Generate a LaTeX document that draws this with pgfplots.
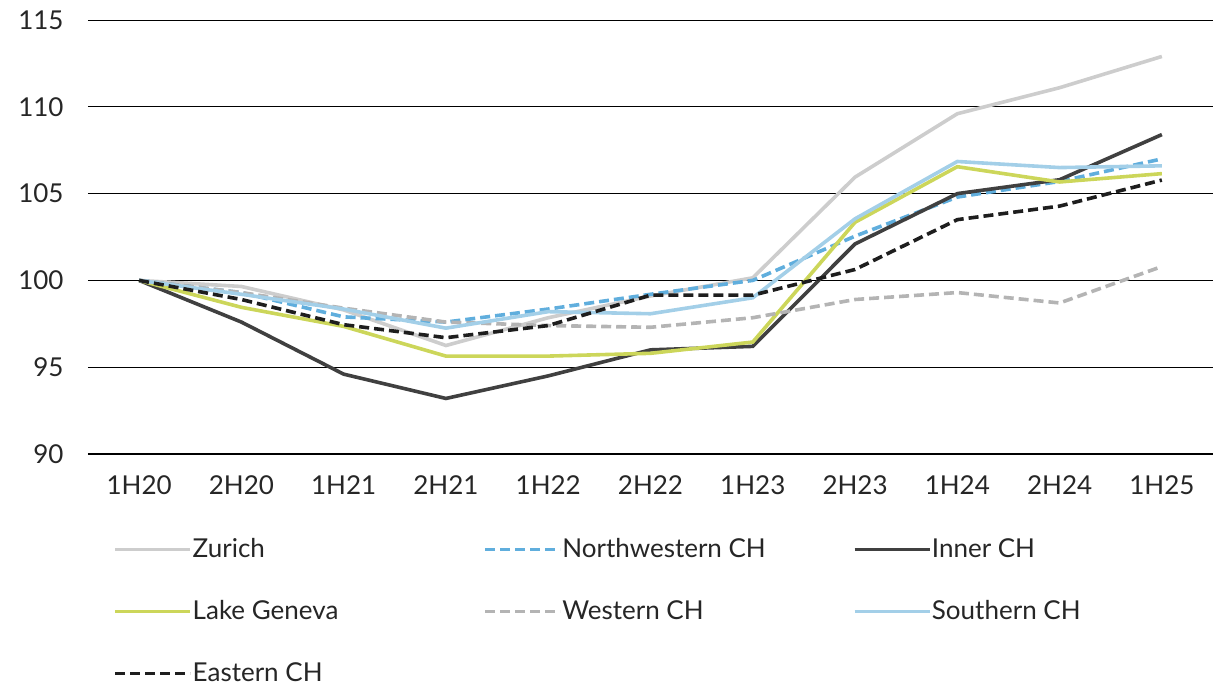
\documentclass[border=0pt]{standalone}
\usepackage{pgfplots}
\pgfplotsset{compat=1.18}
\usepackage{fontspec}
\setmainfont{Lato}
\definecolor{czur}{RGB}{205,205,205}
\definecolor{cnw}{RGB}{96,174,221}
\definecolor{cin}{RGB}{64,64,64}
\definecolor{clg}{RGB}{204,214,90}
\definecolor{cwe}{RGB}{180,180,180}
\definecolor{cso}{RGB}{163,207,232}
\definecolor{cea}{RGB}{30,30,30}
\begin{document}
\begin{tikzpicture}
\begin{axis}[
  scale only axis, width=562.5pt, height=217pt,
  xmin=-0.5, xmax=10.5, ymin=90, ymax=115,
  xtick={0,...,10},
  xticklabels={1H20,2H20,1H21,2H21,1H22,2H22,1H23,2H23,1H24,2H24,1H25},
  ytick={90,95,100,105,110,115},
  axis line style={draw=none},
  ymajorgrids, grid style={black, line width=0.5pt},
  major tick length=0pt,
  tick label style={font=\fontsize{13}{15}\selectfont, text=black!85},
  /pgf/number format/assume math mode=true,
  yticklabel style={xshift=-8.7pt},
  xticklabel style={yshift=-7.5pt},
  clip=false,
  legend columns=3,
  legend style={draw=none, at={(0.017,-0.175)}, anchor=north west,
    font=\fontsize{13}{15}\selectfont, text=black!85,
    nodes={inner xsep=0.2pt}, row sep=16pt},
  legend cell align=left,
  legend image code/.code={\draw[#1, line width=1.9pt] (0pt,0pt) -- (37.5pt,0pt);},
  every axis plot/.append style={line width=1.8pt},
]
\draw[black, line width=1pt] (rel axis cs:0,0) -- (rel axis cs:1,0);
\coordinate (bl) at (rel axis cs:0,0);
\coordinate (tr) at (rel axis cs:1,1);
\addplot[czur] coordinates {(0,100) (1,99.65) (2,98.3) (3,96.25) (4,97.85) (5,99.1) (6,100.15) (7,105.95) (8,109.6) (9,111.1) (10,112.9)};
\addlegendentry{\makebox[145pt][l]{Zurich}}
\addplot[cnw, dash pattern=on 5pt off 2.5pt] coordinates {(0,100) (1,99.3) (2,97.9) (3,97.6) (4,98.35) (5,99.2) (6,100.0) (7,102.55) (8,104.8) (9,105.7) (10,107.0)};
\addlegendentry{\makebox[145pt][l]{Northwestern CH}}
\addplot[cin] coordinates {(0,100) (1,97.6) (2,94.6) (3,93.2) (4,94.5) (5,96.0) (6,96.2) (7,102.1) (8,105.0) (9,105.8) (10,108.4)};
\addlegendentry{Inner CH}
\addplot[clg] coordinates {(0,100) (1,98.45) (2,97.35) (3,95.64) (4,95.64) (5,95.8) (6,96.45) (7,103.35) (8,106.55) (9,105.67) (10,106.15)};
\addlegendentry{\makebox[145pt][l]{Lake Geneva}}
\addplot[cwe, dash pattern=on 5pt off 2.5pt] coordinates {(0,100) (1,99.3) (2,98.4) (3,97.6) (4,97.4) (5,97.3) (6,97.85) (7,98.9) (8,99.3) (9,98.7) (10,100.8)};
\addlegendentry{\makebox[145pt][l]{Western CH}}
\addplot[cso] coordinates {(0,100) (1,99.2) (2,98.35) (3,97.25) (4,98.2) (5,98.08) (6,99.0) (7,103.55) (8,106.85) (9,106.5) (10,106.6)};
\addlegendentry{Southern CH}
\addplot[cea, dash pattern=on 5pt off 2.5pt] coordinates {(0,100) (1,98.9) (2,97.45) (3,96.7) (4,97.4) (5,99.15) (6,99.15) (7,100.63) (8,103.5) (9,104.28) (10,105.78)};
\addlegendentry{\makebox[145pt][l]{Eastern CH}}
\end{axis}
\pgfresetboundingbox
\path ([xshift=-44pt,yshift=-116.5pt]bl) rectangle ([xshift=5.5pt,yshift=10pt]tr);
\end{tikzpicture}
\end{document}
